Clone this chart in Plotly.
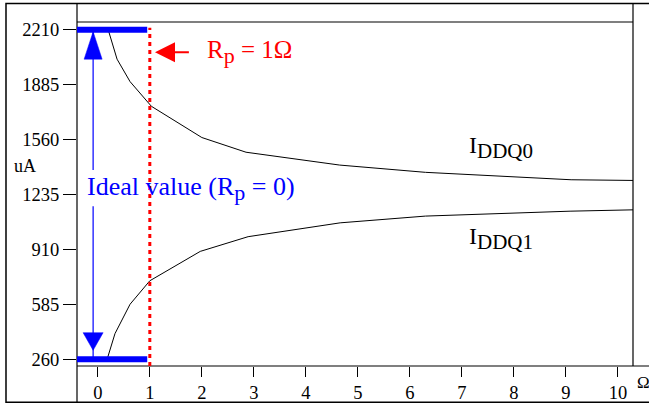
import plotly.graph_objects as go

# ---- data ----
rp_ddq0 = [0.2, 0.37, 0.62, 1.03, 2.0, 2.85, 4.65, 6.3, 9.1, 10.29]
i_ddq0 = [2210, 2036, 1903, 1757, 1572, 1485, 1409, 1366, 1322, 1318]
rp_ddq1 = [0.18, 0.33, 0.62, 1.0, 1.97, 2.89, 4.66, 6.3, 9.08, 10.29]
i_ddq1 = [260, 411, 585, 724, 898, 985, 1067, 1107, 1136, 1144]

x_ticks = list(range(0, 11))
y_ticks = [260, 585, 910, 1235, 1560, 1885, 2210]

ideal_high = 2210
ideal_low = 260
rp_marker = 1

SERIF = "Liberation Serif"
BLUE = "#0000ff"
RED = "#ff0000"

X_LO, X_HI = -0.4, 10.29
Y_LO, Y_HI = 219.4, 2256
PLOT_W, PLOT_H = 556, 351
ux = (X_HI - X_LO) / PLOT_W   # data units per pixel (x)
uy = (Y_HI - Y_LO) / PLOT_H   # data units per pixel (y)

fig = go.Figure()
fig.add_trace(go.Scatter(x=rp_ddq0, y=i_ddq0, mode="lines",
                         line=dict(color="black", width=1), showlegend=False, hoverinfo="skip"))
fig.add_trace(go.Scatter(x=rp_ddq1, y=i_ddq1, mode="lines",
                         line=dict(color="black", width=1), showlegend=False, hoverinfo="skip"))

ax_x = -0.09
def head(tip_y, direction, tip_off, length, half_w):
    ty = tip_y + direction * tip_off * uy
    by = tip_y + direction * (tip_off + length) * uy
    return ([ax_x, ax_x - half_w * ux, ax_x + half_w * ux, ax_x],
            [ty, by, by, ty])
for hx, hy in (head(ideal_high, -1, 2, 28, 9), head(ideal_low, 1, 9, 18, 10)):
    fig.add_trace(go.Scatter(x=hx, y=hy, mode="lines", fill="toself", fillcolor=BLUE,
                             line=dict(color=BLUE, width=0.5), showlegend=False, hoverinfo="skip"))

shapes = []
frame = dict(color="black", width=1.2)
shapes.append(dict(type="rect", xref="paper", yref="paper", x0=-0.1277, x1=1.05,
                   y0=-0.1054, y1=1.0541, line=dict(color="black", width=1.5), layer="below"))
shapes.append(dict(type="line", xref="paper", yref="paper", x0=0, x1=0, y0=-0.1054, y1=1.0541, line=frame))
shapes.append(dict(type="line", xref="paper", yref="paper", x0=0, x1=1, y0=1, y1=1, line=frame))
shapes.append(dict(type="line", xref="paper", yref="paper", x0=1, x1=1, y0=0, y1=1.0541, line=frame))
shapes.append(dict(type="line", xref="paper", yref="paper", x0=0, x1=1.05, y0=0, y1=0, line=frame))

for yv in (ideal_high, ideal_low):
    shapes.append(dict(type="line", xref="x", yref="y", x0=X_LO, x1=0.95, y0=yv, y1=yv,
                       line=dict(color=BLUE, width=6)))

shapes.append(dict(type="line", xref="x", yref="paper", x0=rp_marker, x1=rp_marker, y0=0, y1=0.983,
                   line=dict(color=RED, width=3, dash="4px,4px")))

shapes.append(dict(type="line", xref="x", yref="y", x0=ax_x, x1=ax_x, y0=ideal_high, y1=1380,
                   line=dict(color=BLUE, width=1.2)))
shapes.append(dict(type="line", xref="x", yref="y", x0=ax_x, x1=ax_x, y0=1165, y1=ideal_low,
                   line=dict(color=BLUE, width=1.2)))

annotations = [
    dict(x=1.10, y=2077, ax=1.78, ay=2077, xref="x", yref="y", axref="x", ayref="y",
         text="", showarrow=True, arrowhead=2, arrowsize=2, arrowwidth=2, arrowcolor=RED),
    dict(x=2.06, y=2077, xref="x", yref="y", xanchor="left", yanchor="middle", showarrow=False,
         text='R<sub><span style="font-size:22px">p</span></sub> = 1Ω',
         font=dict(family=SERIF, size=25, color=RED)),
    dict(x=-0.24, y=1270, xref="x", yref="y", xanchor="left", yanchor="middle", showarrow=False,
         text='Ideal value (R<sub><span style="font-size:22px">p</span></sub> = 0)',
         font=dict(family=SERIF, size=26, color=BLUE)),
    dict(x=7.1, y=1514, xref="x", yref="y", xanchor="left", yanchor="middle", showarrow=False,
         text='I<sub><span style="font-size:21px">DDQ0</span></sub>',
         font=dict(family=SERIF, size=24, color="black")),
    dict(x=7.1, y=974, xref="x", yref="y", xanchor="left", yanchor="middle", showarrow=False,
         text='I<sub><span style="font-size:21px">DDQ1</span></sub>',
         font=dict(family=SERIF, size=24, color="black")),
    dict(x=-0.0935, y=0.581, xref="paper", yref="paper", xanchor="center", yanchor="middle",
         showarrow=False, text="uA", font=dict(family=SERIF, size=18, color="black")),
    dict(x=1.0036, y=-0.048, xref="paper", yref="paper", xanchor="left", yanchor="middle",
         showarrow=False, text="Ω", font=dict(family=SERIF, size=17, color="black")),
]

fig.update_layout(
    width=649, height=415, autosize=False,
    margin=dict(l=77, r=16, t=22, b=42, pad=0),
    paper_bgcolor="white", plot_bgcolor="white",
    font=dict(family=SERIF, size=17, color="black"),
    shapes=shapes, annotations=annotations,
    xaxis=dict(range=[X_LO, X_HI], tickvals=x_ticks,
               ticks="outside", ticklen=10, tickwidth=1, tickcolor="black",
               showgrid=False, zeroline=False, showline=False,
               tickfont=dict(family=SERIF, size=18.5, color="black")),
    yaxis=dict(range=[Y_LO, Y_HI], tickvals=y_ticks,
               ticks="outside", ticklen=13, tickwidth=1, tickcolor="black",
               showgrid=False, zeroline=False, showline=False,
               tickfont=dict(family=SERIF, size=18.5, color="black")),
)

fig.write_html("out.html")
